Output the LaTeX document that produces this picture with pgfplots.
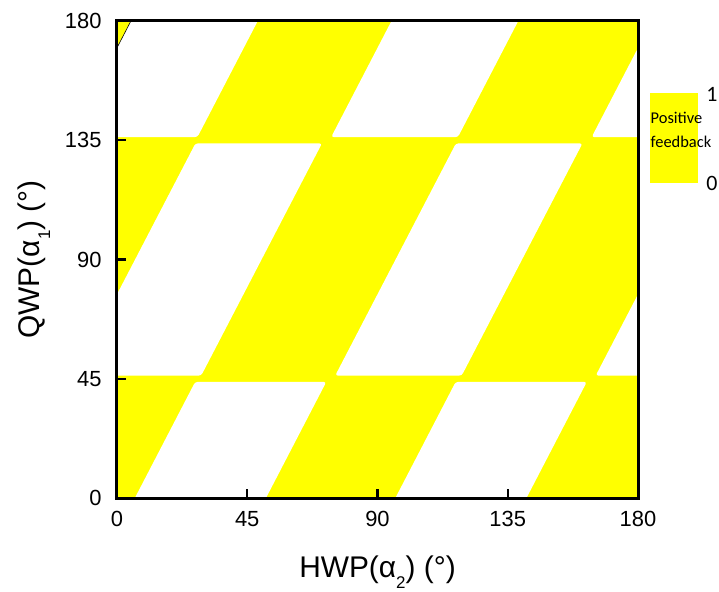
\documentclass[border=0pt]{standalone}
\usepackage{fontspec}
\setmainfont{Liberation Sans}
\newfontfamily\calibri{Carlito}
\usepackage{pgfplots}
\pgfplotsset{compat=1.18}
\definecolor{yel}{RGB}{255,255,0}
\newcommand{\lowsub}[1]{\raisebox{-11bp}{\fontsize{17}{20}\selectfont #1}}
\begin{document}
\begin{tikzpicture}
\begin{axis}[name=ax, scale only axis, width=521bp, height=477bp,
  xmin=0, xmax=180, ymin=0, ymax=180,
  xtick={0,45,90,135,180}, ytick={0,45,90,135,180},
  xtick pos=bottom, ytick pos=left, tick align=inside,
  major tick length=9bp, tick style={black, line width=2.2bp},
  axis line style={black, line width=3bp},
  axis on top,
  /pgf/number format/assume math mode=true,
  ticklabel style={font=\fontsize{22}{26}\selectfont},
  yticklabel style={xshift=-12bp},
  xticklabel style={yshift=-10bp},
  xlabel={HWP(α\lowsub{2}) (°)},
  ylabel={QWP(α\lowsub{1}) (°)},
  label style={font=\fontsize{30}{34}\selectfont},
  xlabel shift=22bp, ylabel shift=8bp,
]
% yellow background (value 1)
\addplot[fill=yel, draw=none] coordinates {(0,0) (180,0) (180,180) (0,180)} -- cycle;
% bottom row, white (value 0)
\addplot[fill=white, draw=none, rounded corners=2.5bp] coordinates {(3.8,-5) (49.1,-5) (72.3,43.8) (27.0,43.8)} -- cycle;
\addplot[fill=white, draw=none, rounded corners=2.5bp] coordinates {(93.8,-5) (139.1,-5) (162.3,43.8) (117.0,43.8)} -- cycle;
% middle row
\addplot[fill=white, draw=none, rounded corners=2.5bp] coordinates {(-14.6,46.2) (29.1,46.2) (70.8,133.8) (27.1,133.8)} -- cycle;
\addplot[fill=white, draw=none, rounded corners=2.5bp] coordinates {(75.4,46.2) (119.1,46.2) (160.8,133.8) (117.1,133.8)} -- cycle;
\addplot[fill=white, draw=none, rounded corners=2.5bp] coordinates {(165.4,46.2) (209.1,46.2) (250.8,133.8) (207.1,133.8)} -- cycle;
% top row
\addplot[fill=white, draw=none, rounded corners=2.5bp] coordinates {(-16.0,136.2) (27.8,136.2) (51.0,185) (7.2,185)} -- cycle;
\addplot[fill=white, draw=none, rounded corners=2.5bp] coordinates {(74.0,136.2) (117.8,136.2) (141.0,185) (97.2,185)} -- cycle;
\addplot[fill=white, draw=none, rounded corners=2.5bp] coordinates {(164.0,136.2) (207.8,136.2) (231.0,185) (187.2,185)} -- cycle;
% thin edge of top-left corner triangle
\addplot[black, line width=0.6bp] coordinates {(0,169.9) (4.8,180)};
\end{axis}
% colour bar
\fill[yel] ([shift={(12bp,-72bp)}]ax.north east) rectangle ([shift={(60bp,-162bp)}]ax.north east);
\node[font=\calibri\fontsize{22}{24}\selectfont, anchor=center] at ([shift={(74bp,-73bp)}]ax.north east) {1};
\node[font=\calibri\fontsize{22}{24}\selectfont, anchor=center] at ([shift={(74bp,-162bp)}]ax.north east) {0};
\node[font=\calibri\fontsize{16.5}{19}\selectfont, anchor=west, inner sep=0pt] at ([shift={(12.5bp,-97bp)}]ax.north east) {Positive};
\node[font=\calibri\fontsize{16.5}{19}\selectfont, anchor=west, inner sep=0pt] at ([shift={(12.5bp,-121bp)}]ax.north east) {feedback};
\pgfresetboundingbox
\path ([shift={(-117bp,-94bp)}]ax.south west) rectangle ([shift={(81bp,21bp)}]ax.north east);
\end{tikzpicture}
\end{document}
